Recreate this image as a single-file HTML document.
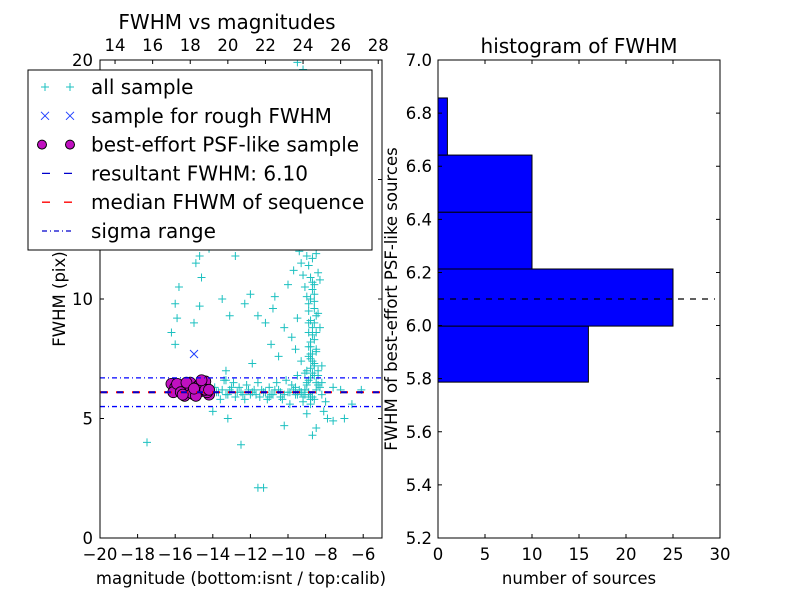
<!DOCTYPE html>
<html><head><meta charset="utf-8"><style>
body{margin:0;background:#fff}
svg{display:block;font-family:"DejaVu Sans","Liberation Sans",sans-serif}
</style></head><body>
<svg id="c" width="800" height="600" viewBox="0 0 800 600" xmlns="http://www.w3.org/2000/svg"></svg>
<script>
const allMag=[-13.5,-13.2,-13,-12.8,-12.5,-12.2,-12,-11.8,-11.5,-11.3,-11,-10.8,-10.5,-10.3,-10,-9.8,-9.6,-9.4,-9.2,-9,-13.8,-13.6,-12.9,-12.3,-11.1,-10.6,-10.1,-9.9,-9.5,-13.4,-11.6,
-9,-8.8,-8.9,-8.7,-8.6,-8.9,-8.8,-9.1,-9.2,-9.3,-9.4,-9.2,-8.6,-8.5,-8.4,-8.3,-8.2,-8.0,-8.1,-7.9,-8.5,-8.7,-9.1,-9.3,-9.6,-9.8,-10.2,-8.3,-8.4,-8.6,-8.3,-9.5,-10.5,-10.9,-11.2,-10.7,-10.0,-9.7,-9.0,-9.4,-9.6,-9.9,-7.6,-7.2,-7.0,-7.6,-6.6,-6.1,-8.8,-9.0,-8.2,-8.8,
-16.0,-15.9,-16.2,-16.0,-15.8,-14.9,-14.6,-15,-14.7,-13.1,-13.5,-12.3,-12.0,-11.6,-10.8,-15.7,-14.7,-14.2,-12.8,-17.5,-11.6,-11.3,-13.2,-12.5,-14.0,-13.3,-10.2,-13.3,-11.9,-13.0,
-9.5,-9.2,-9.6,-9.9,-9.4,-10.1,-16.0,-14.9,
-8.9,-8.7,-8.8,-8.6,-8.9,-8.7,-8.5,-8.8,-8.6,-8.9,-8.7,-8.8,-8.5,-8.6,-8.9,-9.0,-8.7,-8.6,-8.8,-8.4,-8.9,-8.7,-8.5,-8.8,-9.0,-8.6,-8.7,-8.8,-8.5,-8.9,-8.6,-8.7,-8.4,-8.8,-9.1,-8.5,
-13.7,-13.3,-13.1,-12.7,-12.4,-12.1,-11.9,-11.7,-11.4,-11.2,-10.9,-10.7,-10.4,-10.2,-9.9,-9.7,-9.5,-9.3,-9.1,-8.9,-13.9,-12.6,-11.0,-10.4,-9.6,-9.2,-8.8,-8.6,-8.4,-8.2,
-8.9,-9.1,-8.7,-8.5,-9.3,-8.8];
const allFwhm=[6.2,6.0,6.3,5.9,6.1,6.4,6.0,6.2,5.9,6.1,6.3,6.0,6.2,5.8,6.1,6.4,6.0,6.2,5.7,6.5,6.1,5.8,6.5,5.8,5.8,6.5,6.6,5.6,6.8,6.6,6.5,
7,7.5,8,8.5,9,9.5,10,10.5,11,11.5,12,12.5,7.2,7.8,6.8,6.3,6.0,5.7,5.3,5.0,4.6,4.3,6.9,7.4,7.9,8.4,8.8,8.8,9.4,10.2,10.8,9.2,7.6,8.1,9.0,10.1,10.6,11.2,11.8,12.7,13.2,12.9,6.3,6.2,5.0,4.9,5.6,6.2,5.6,5.2,7.2,6.7,
9.8,9.2,8.6,8.1,10.5,11.5,10.9,9.0,9.7,9.3,10.0,9.8,10.2,9.3,9.6,12.6,11.8,12.1,11.8,4.0,2.1,2.1,5.0,3.9,5.3,7.0,4.7,6.6,7.3,12.5,
19.9,19.6,16.0,15,14.4,14.0,13.3,13.0,
6.6,6.9,7.1,7.3,7.6,7.7,7.9,8.2,8.3,8.6,8.8,9.1,9.3,9.6,9.8,10.1,10.4,10.6,10.9,11.1,11.4,11.7,11.9,12.2,6.4,6.8,7.4,8.0,8.6,9.0,9.9,10.7,7.0,7.7,6.2,6.5,
6.1,6.0,6.2,6.1,6.0,6.2,6.1,6.0,6.2,6.1,6.0,6.2,6.1,6.0,6.1,6.2,6.0,6.1,6.2,6.0,6.3,6.3,5.9,5.9,6.3,5.9,5.9,5.8,6.4,6.5,
6.1,6.0,5.9,6.2,6.1,5.8];
const roughMag=[-15.0];
const roughFwhm=[7.7];
const psfMag=[-16.2,-16.0,-15.8,-15.6,-15.4,-15.2,-15.0,-14.8,-14.6,-14.4,-14.2,-16.1,-15.9,-15.5,-15.3,-15.1,-14.9,-14.7,-14.5,-14.3,-15.7,-14.9,-14.4,-14.6,-15.4,-14.2,-15.6,-15.0];
const psfFwhm=[6.45,6.3,6.2,6.4,6.1,6.5,6.0,6.35,6.15,6.55,6.0,6.1,6.45,5.95,6.3,6.05,6.2,6.4,6.25,6.1,6.1,5.95,6.2,6.6,6.5,6.2,6.0,6.25];
const resultFwhm=6.10, medianFwhm=6.10, sigmaLo=5.50, sigmaHi=6.70;
const binLo=[5.787,5.998,6.213,6.427,6.642];
const binHi=[5.998,6.213,6.427,6.642,6.857];
const counts=[16,25,10,10,1];
const xTicks=[-20,-18,-16,-14,-12,-10,-8,-6];
const yTicks=[0,5,10,15,20];
const topTicks=[14,16,18,20,22,24,26,28];
const hxTicks=[0,5,10,15,20,25,30];
const hyTicks=[5.2,5.4,5.6,5.8,6.0,6.2,6.4,6.6,6.8,7.0];

const S=document.getElementById('c'),NS='http://www.w3.org/2000/svg';
function el(t,a,p){const e=document.createElementNS(NS,t);for(const k in a)e.setAttribute(k,a[k]);(p||S).appendChild(e);return e;}
function txt(x,y,s,a,p){const e=el('text',Object.assign({x:x,y:y,'font-size':16,fill:'#000'},a),p);e.textContent=s;return e;}
const TF=16.5;
const L={x0:100,x1:382,y0:538,y1:60};
const sx=m=>L.x0+(m+20)/15*(L.x1-L.x0);
const sy=f=>L.y0-f/20*(L.y0-L.y1);
const st=c=>sx(c-33.2);
const gL=el('g',{});

const clip=el('clipPath',{id:'cl'});el('rect',{x:L.x0,y:L.y1,width:L.x1-L.x0,height:L.y0-L.y1},clip);
const pts=el('g',{'clip-path':'url(#cl)'},gL);

allMag.forEach((m,i)=>{const x=sx(m),y=sy(allFwhm[i]);
 el('path',{d:`M${x-4},${y}h8M${x},${y-4}v8`,stroke:'#1cc0c0','stroke-width':1},pts);});
roughMag.forEach((m,i)=>{const x=sx(m),y=sy(roughFwhm[i]);
 el('path',{d:`M${x-4},${y-4}l8,8M${x-4},${y+4}l8,-8`,stroke:'#2040ff','stroke-width':1},pts);});
psfMag.forEach((m,i)=>{el('circle',{cx:sx(m),cy:sy(psfFwhm[i]),r:5.5,fill:'#c010c0',stroke:'#000','stroke-width':0.8},pts);});
function hl(v,c,da,off){el('line',{x1:L.x0,x2:L.x1,y1:sy(v),y2:sy(v),stroke:c,'stroke-width':2,'stroke-dasharray':da,'stroke-dashoffset':off||0},pts);}
hl(medianFwhm,'#ff0000','8,8',0);hl(resultFwhm,'#0000cc','6,10',-1);
el('line',{x1:L.x0,x2:L.x1,y1:sy(sigmaLo),y2:sy(sigmaLo),stroke:'#0000ff','stroke-width':1.3,'stroke-dasharray':'5,3,1,3'},pts);
el('line',{x1:L.x0,x2:L.x1,y1:sy(sigmaHi),y2:sy(sigmaHi),stroke:'#0000ff','stroke-width':1.3,'stroke-dasharray':'5,3,1,3'},pts);
el('rect',{x:L.x0,y:L.y1,width:L.x1-L.x0,height:L.y0-L.y1,fill:'none',stroke:'#000','stroke-width':1},gL);
xTicks.forEach(t=>{const x=sx(t);el('path',{d:`M${x},${L.y0}v-4`,stroke:'#000'},gL);txt(x,560,t<0?'\u2212'+(-t):t,{'text-anchor':'middle','font-size':TF},gL);});
yTicks.forEach(t=>{const y=sy(t);el('path',{d:`M${L.x0},${y}h4M${L.x1},${y}h-4`,stroke:'#000'},gL);txt(93,y+6,t,{'text-anchor':'end','font-size':TF},gL);});
topTicks.forEach(t=>{const x=st(t);el('path',{d:`M${x},${L.y1}v4`,stroke:'#000'},gL);txt(x,51,t,{'text-anchor':'middle','font-size':TF},gL);});
txt(241,584,'magnitude (bottom:isnt / top:calib)',{'text-anchor':'middle','font-size':16.5},gL);
const yl=txt(0,0,'FWHM (pix)',{'text-anchor':'middle','font-size':16.5,transform:`translate(65,299) rotate(-90)`},gL);
txt(227,29,'FWHM vs magnitudes',{'text-anchor':'middle','font-size':20},gL);
const lg=el('g',{});
el('rect',{x:28,y:70,width:344,height:180,fill:'#fff',stroke:'#000'},lg);
const rows=['all sample','sample for rough FWHM','best-effort PSF-like sample','resultant FWHM: 6.10','median FHWM of sequence','sigma range'];
rows.forEach((r,i)=>{const y=87+i*28.8;
 if(i==0)[45,70].forEach(x=>el('path',{d:`M${x-4},${y}h8M${x},${y-4}v8`,stroke:'#1cc0c0'},lg));
 if(i==1)[45,70].forEach(x=>el('path',{d:`M${x-4},${y-4}l8,8M${x-4},${y+4}l8,-8`,stroke:'#2040ff'},lg));
 if(i==2)[42,70].forEach(x=>el('circle',{cx:x,cy:y,r:4.5,fill:'#c010c0',stroke:'#000'},lg));
 if(i==3)el('line',{x1:42,x2:74,y1:y,y2:y,stroke:'#0000cc','stroke-dasharray':'8,14','stroke-width':1.3},lg);
 if(i==4)el('line',{x1:42,x2:74,y1:y,y2:y,stroke:'#ff0000','stroke-dasharray':'8,14','stroke-width':1.3},lg);
 if(i==5)el('line',{x1:42,x2:74,y1:y,y2:y,stroke:'#0000cc','stroke-dasharray':'5,3,1,3','stroke-width':1.3},lg);
 const t=txt(91,y+7,r,{'font-size':20},lg);});
const H={x0:438,x1:720,y0:538,y1:60};
const hx=v=>H.x0+v/30*(H.x1-H.x0);
const hy=v=>H.y0-(v-5.2)/1.8*(H.y0-H.y1);
const gH=el('g',{});
counts.forEach((c,i)=>{const r=el('rect',{x:H.x0,y:hy(binHi[i]),width:hx(c)-H.x0,height:hy(binLo[i])-hy(binHi[i]),fill:'#0000ff',stroke:'#000'},gH);
 });
el('line',{x1:H.x0,x2:715,y1:hy(resultFwhm),y2:hy(resultFwhm),stroke:'#000','stroke-dasharray':'6,6','stroke-width':1.3},gH);
el('rect',{x:H.x0,y:H.y1,width:H.x1-H.x0,height:H.y0-H.y1,fill:'none',stroke:'#000'},gH);
hxTicks.forEach(t=>{const x=hx(t);el('path',{d:`M${x},${H.y0}v-4M${x},${H.y1}v4`,stroke:'#000'},gH);txt(x,560,t,{'text-anchor':'middle','font-size':TF},gH);});
hyTicks.forEach(t=>{const y=hy(t);el('path',{d:`M${H.x0},${y}h4M${H.x1},${y}h-4`,stroke:'#000'},gH);txt(432,y+6,t.toFixed(1),{'text-anchor':'end','font-size':TF},gH);});
txt(579,584,'number of sources',{'text-anchor':'middle','font-size':16.5},gH);
txt(0,0,'FWHM of best-effort PSF-like sources',{'text-anchor':'middle','font-size':16.5,transform:'translate(397,299) rotate(-90)'},gH);
txt(579,53,'histogram of FWHM',{'text-anchor':'middle','font-size':20},gH);
</script>
</body></html>
